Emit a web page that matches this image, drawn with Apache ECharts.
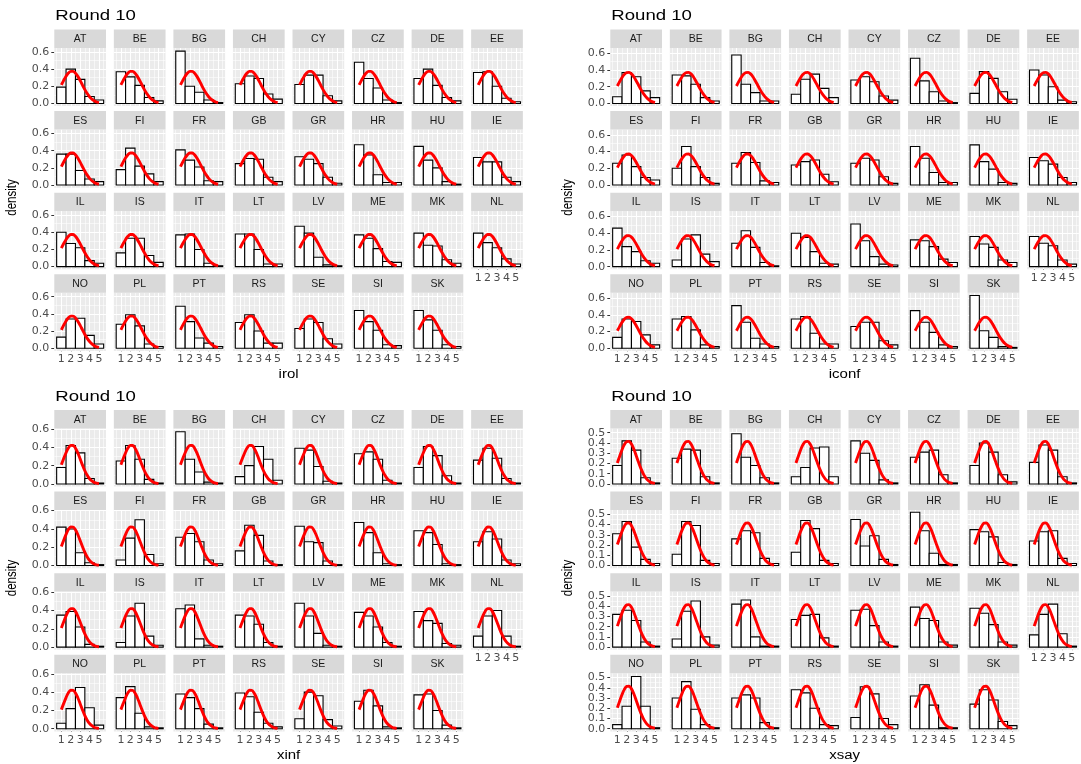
<!DOCTYPE html>
<html>
<head>
<meta charset="utf-8">
<script src="https://cdn.jsdelivr.net/npm/echarts@6/dist/echarts.min.js"></script>
<style>
  html, body { margin: 0; padding: 0; background: #ffffff; }
  #chart { width: 1081px; height: 764px; }
</style>
</head>
<body>
<div id="chart"></div>
<script>
// Facet order (country codes) and the five answer levels
const countries = ['AT','BE','BG','CH','CY','CZ','DE','EE','ES','FI','FR','GB','GR','HR','HU','IE',
                   'IL','IS','IT','LT','LV','ME','MK','NL','NO','PL','PT','RS','SE','SI','SK'];
const scores = [1, 2, 3, 4, 5];
const roundTitle = 'Round 10';
const yLabel = 'density';

// Share of answers per level (histogram density), one row per country
const irolShares = [
  [0.19,0.40,0.28,0.08,0.04],[0.37,0.31,0.21,0.07,0.03],[0.61,0.20,0.13,0.04,0.01],[0.23,0.32,0.29,0.11,0.05],
  [0.22,0.33,0.33,0.09,0.03],[0.48,0.29,0.18,0.04,0.01],[0.29,0.40,0.21,0.07,0.03],[0.36,0.37,0.20,0.06,0.02],
  [0.36,0.36,0.17,0.07,0.04],[0.18,0.43,0.22,0.13,0.04],[0.41,0.29,0.21,0.05,0.04],[0.25,0.31,0.30,0.09,0.04],
  [0.33,0.30,0.25,0.09,0.02],[0.47,0.35,0.12,0.03,0.03],[0.45,0.29,0.20,0.04,0.01],[0.32,0.27,0.27,0.09,0.04],
  [0.40,0.27,0.22,0.07,0.04],[0.16,0.33,0.33,0.13,0.05],[0.37,0.38,0.20,0.04,0.01],[0.38,0.38,0.20,0.03,0.03],
  [0.47,0.39,0.11,0.02,0.01],[0.37,0.33,0.21,0.06,0.05],[0.39,0.25,0.24,0.08,0.04],[0.39,0.28,0.22,0.09,0.03],
  [0.13,0.34,0.35,0.15,0.05],[0.28,0.39,0.26,0.05,0.02],[0.49,0.31,0.12,0.06,0.02],[0.30,0.39,0.20,0.06,0.06],
  [0.23,0.34,0.30,0.11,0.05],[0.44,0.31,0.21,0.04,0.03],[0.44,0.33,0.21,0.04,0.02]
];
const iconfShares = [
  [0.08,0.37,0.32,0.15,0.07],[0.34,0.33,0.23,0.07,0.03],[0.58,0.23,0.13,0.03,0.03],[0.11,0.29,0.35,0.18,0.07],
  [0.28,0.32,0.26,0.09,0.04],[0.54,0.27,0.14,0.03,0.01],[0.12,0.38,0.30,0.14,0.05],[0.40,0.34,0.20,0.04,0.02],
  [0.26,0.36,0.22,0.09,0.06],[0.20,0.46,0.22,0.09,0.02],[0.26,0.39,0.27,0.05,0.03],[0.24,0.28,0.30,0.13,0.04],
  [0.26,0.32,0.30,0.10,0.02],[0.46,0.32,0.15,0.03,0.03],[0.48,0.28,0.19,0.03,0.02],[0.33,0.29,0.25,0.09,0.03],
  [0.46,0.24,0.18,0.07,0.04],[0.08,0.33,0.38,0.15,0.06],[0.28,0.43,0.23,0.05,0.01],[0.40,0.35,0.18,0.04,0.03],
  [0.51,0.31,0.12,0.03,0.02],[0.32,0.31,0.24,0.09,0.05],[0.36,0.27,0.23,0.08,0.05],[0.36,0.28,0.25,0.08,0.03],
  [0.13,0.35,0.32,0.16,0.04],[0.35,0.38,0.22,0.04,0.02],[0.51,0.31,0.12,0.05,0.02],[0.35,0.38,0.18,0.05,0.05],
  [0.26,0.31,0.31,0.09,0.04],[0.45,0.31,0.19,0.04,0.02],[0.63,0.21,0.13,0.02,0.01]
];
const xinfShares = [
  [0.18,0.42,0.34,0.06,0.01],[0.25,0.42,0.27,0.05,0.01],[0.57,0.27,0.13,0.02,0.01],[0.08,0.20,0.41,0.27,0.04],
  [0.39,0.37,0.19,0.03,0.01],[0.33,0.35,0.27,0.04,0.01],[0.18,0.41,0.31,0.09,0.01],[0.26,0.39,0.28,0.06,0.01],
  [0.42,0.40,0.14,0.03,0.01],[0.06,0.30,0.50,0.12,0.02],[0.31,0.35,0.26,0.06,0.02],[0.16,0.44,0.33,0.05,0.01],
  [0.43,0.26,0.25,0.05,0.01],[0.47,0.36,0.14,0.02,0.01],[0.38,0.36,0.23,0.02,0.01],[0.26,0.37,0.29,0.06,0.02],
  [0.35,0.39,0.22,0.03,0.01],[0.05,0.34,0.48,0.12,0.02],[0.42,0.46,0.09,0.02,0.01],[0.35,0.34,0.25,0.05,0.01],
  [0.48,0.34,0.15,0.02,0.01],[0.38,0.34,0.22,0.05,0.01],[0.39,0.29,0.26,0.04,0.02],[0.12,0.34,0.40,0.12,0.01],
  [0.06,0.22,0.45,0.23,0.04],[0.34,0.46,0.17,0.02,0.01],[0.38,0.34,0.22,0.05,0.01],[0.39,0.35,0.18,0.06,0.02],
  [0.11,0.40,0.36,0.10,0.03],[0.30,0.42,0.25,0.02,0.01],[0.37,0.38,0.20,0.04,0.01]
];
const xsayShares = [
  [0.18,0.42,0.33,0.06,0.01],[0.25,0.34,0.33,0.07,0.01],[0.49,0.26,0.18,0.06,0.01],[0.07,0.16,0.35,0.36,0.07],
  [0.42,0.30,0.23,0.04,0.01],[0.26,0.31,0.33,0.09,0.01],[0.18,0.40,0.31,0.09,0.02],[0.21,0.38,0.33,0.07,0.01],
  [0.31,0.43,0.18,0.06,0.02],[0.11,0.43,0.39,0.05,0.02],[0.26,0.34,0.32,0.07,0.02],[0.13,0.44,0.36,0.05,0.02],
  [0.45,0.19,0.29,0.06,0.01],[0.52,0.34,0.12,0.01,0.01],[0.35,0.33,0.28,0.03,0.01],[0.24,0.33,0.34,0.07,0.02],
  [0.32,0.36,0.26,0.05,0.01],[0.08,0.35,0.45,0.10,0.02],[0.42,0.46,0.10,0.01,0.01],[0.27,0.31,0.32,0.09,0.01],
  [0.36,0.37,0.21,0.05,0.01],[0.39,0.28,0.26,0.05,0.02],[0.38,0.33,0.22,0.05,0.02],[0.12,0.32,0.42,0.13,0.01],
  [0.04,0.22,0.51,0.22,0.01],[0.30,0.46,0.19,0.04,0.01],[0.30,0.33,0.30,0.06,0.01],[0.38,0.35,0.20,0.04,0.03],
  [0.11,0.41,0.34,0.10,0.04],[0.32,0.43,0.23,0.01,0.01],[0.24,0.38,0.28,0.07,0.03]
];

// Pooled normal density curve, sampled every 0.25 from 1 to 5
const curveX = [1,1.25,1.5,1.75,2,2.25,2.5,2.75,3,3.25,3.5,3.75,4,4.25,4.5,4.75,5];
const irolCurve  = [0.215,0.269,0.317,0.354,0.374,0.374,0.353,0.315,0.267,0.213,0.161,0.115,0.078,0.050,0.030,0.017,0.009];
const iconfCurve = [0.209,0.262,0.310,0.348,0.369,0.371,0.353,0.319,0.272,0.220,0.168,0.122,0.084,0.054,0.033,0.019,0.011];
const xinfCurve  = [0.209,0.277,0.341,0.393,0.421,0.420,0.391,0.339,0.274,0.206,0.144,0.094,0.057,0.033,0.017,0.008,0.004];
const xsayCurve  = [0.205,0.271,0.334,0.384,0.413,0.415,0.389,0.341,0.278,0.213,0.152,0.101,0.063,0.036,0.020,0.010,0.005];

// Axis breaks
const xMajor = [1, 2, 3, 4, 5];
const xMinor = [0.5, 1.5, 2.5, 3.5, 4.5, 5.5];
const yMajorWide = [0, 0.2, 0.4, 0.6];
const yMinorWide = [0.1, 0.3, 0.5];
const yMajorNarrow = [0, 0.1, 0.2, 0.3, 0.4, 0.5];
const yMinorNarrow = [0.05, 0.15, 0.25, 0.35, 0.45];

// Facet geometry (pixels)
const COL_STEP = 59.55, FACET_W = 51.7, ROW_STEP = 81.6, STRIP_H = 18.4, PANEL_H = 58.2;
const SANS = 'Liberation Sans, Arial, Helvetica, sans-serif';
const TICK_FONT = 'DejaVu Sans, Verdana, sans-serif';
const TEXT_STRETCH = 1.2;   // wide lettering of the titles

const blocks = [
  { variable: 'irol',  shares: irolShares,  curve: irolCurve,  left: 54.3,  top: 29.5, yMin: -0.031,  yMax: 0.647, yMajor: yMajorWide,   yMinor: yMinorWide },
  { variable: 'iconf', shares: iconfShares, curve: iconfCurve, left: 610.3, top: 29.5, yMin: -0.0316, yMax: 0.664, yMajor: yMajorWide,   yMinor: yMinorWide },
  { variable: 'xinf',  shares: xinfShares,  curve: xinfCurve,  left: 54.3,  top: 410,  yMin: -0.029,  yMax: 0.607, yMajor: yMajorWide,   yMinor: yMinorWide },
  { variable: 'xsay',  shares: xsayShares,  curve: xsayCurve,  left: 610.3, top: 410,  yMin: -0.026,  yMax: 0.542, yMajor: yMajorNarrow, yMinor: yMinorNarrow }
];

const grid = [], xAxis = [], yAxis = [], series = [], graphic = [];

function gridLines(yMajor, yMinor) {
  const major = { color: '#ffffff', width: 1.1, type: 'solid' };
  const minor = { color: '#ffffff', width: 0.55, type: 'solid' };
  return [].concat(
    xMajor.map(v => ({ xAxis: v, lineStyle: major })),
    xMinor.map(v => ({ xAxis: v, lineStyle: minor })),
    yMajor.map(v => ({ yAxis: v, lineStyle: major })),
    yMinor.map(v => ({ yAxis: v, lineStyle: minor }))
  );
}

// Histogram bar: spans one unit centred on the answer level
function renderBar(params, api) {
  const x = api.value(0), y = api.value(1);
  const p0 = api.coord([x - 0.5, y]);
  const p1 = api.coord([x + 0.5, 0]);
  return {
    type: 'rect',
    shape: { x: p0[0], y: p0[1], width: p1[0] - p0[0], height: p1[1] - p0[1] },
    style: { fill: '#ffffff', stroke: '#000000', lineWidth: 1.1 }
  };
}

function textStyle(text, font, fill, align) {
  return { text: text, font: font, fill: fill, textAlign: align, textVerticalAlign: 'middle', align: align, verticalAlign: 'middle' };
}

// A left value axis; the labelled breaks are split over two stacked axes so
// that closely spaced labels are all kept
function densityAxis(gi, b, show, breaks) {
  return {
    gridIndex: gi, type: 'value', min: b.yMin, max: b.yMax, position: 'left', offset: 0,
    axisLine: { show: false }, splitLine: { show: false }, minorSplitLine: { show: false },
    axisTick: { show: show, customValues: breaks, length: 3, lineStyle: { color: '#333333', width: 1 } },
    axisLabel: { show: show, customValues: breaks, margin: 5, color: '#4D4D4D', fontSize: 11,
                 fontFamily: TICK_FONT, hideOverlap: false, showMinLabel: true, showMaxLabel: true,
                 formatter: v => Number(v).toFixed(1) }
  };
}

blocks.forEach(b => {
  // panel title
  graphic.push({
    type: 'text', x: b.left + 1, y: b.top - 13.5, scaleX: TEXT_STRETCH, silent: true,
    style: textStyle(roundTitle, '15.5px ' + SANS, '#000000', 'left')
  });
  // x axis title
  graphic.push({
    type: 'text', x: b.left + (7 * COL_STEP + FACET_W) / 2, y: b.top + 345.5, scaleX: TEXT_STRETCH, silent: true,
    style: textStyle(b.variable, '12.5px ' + SANS, '#000000', 'center')
  });
  // y axis title
  graphic.push({
    type: 'text', x: b.left - 42, y: b.top + 168, rotation: Math.PI / 2, scaleY: TEXT_STRETCH, silent: true,
    style: textStyle(yLabel, '11.5px ' + SANS, '#000000', 'center')
  });

  const evenBreaks = b.yMajor.filter((v, k) => k % 2 === 0);
  const oddBreaks = b.yMajor.filter((v, k) => k % 2 === 1);

  countries.forEach((country, i) => {
    const row = Math.floor(i / 8), col = i % 8;
    const left = b.left + col * COL_STEP;
    const stripTop = b.top + row * ROW_STEP;
    const top = stripTop + STRIP_H;
    const gi = grid.length;
    const showX = row === 3 || (row === 2 && col === 7);
    const showY = col === 0;

    grid.push({
      left: left, top: top, width: FACET_W, height: PANEL_H,
      show: true, backgroundColor: '#EBEBEB', borderWidth: 0, containLabel: false, outerBoundsMode: 'none'
    });
    xAxis.push({
      gridIndex: gi, type: 'value', min: 0.25, max: 5.75,
      axisLine: { show: false }, splitLine: { show: false }, minorSplitLine: { show: false },
      axisTick: { show: showX, customValues: xMajor, length: 3, lineStyle: { color: '#333333', width: 1 } },
      axisLabel: { show: showX, customValues: xMajor, margin: 3, color: '#4D4D4D', fontSize: 11, fontFamily: TICK_FONT,
                   hideOverlap: false, showMinLabel: true, showMaxLabel: true }
    });
    const yi = yAxis.length;
    yAxis.push(densityAxis(gi, b, showY, evenBreaks));
    if (showY) yAxis.push(densityAxis(gi, b, true, oddBreaks));

    series.push({
      type: 'custom', xAxisIndex: gi, yAxisIndex: yi, z: 3, silent: true,
      data: b.shares[i].map((v, k) => [scores[k], v]),
      encode: { x: 0, y: 1 },
      renderItem: renderBar
    });
    series.push({
      type: 'line', xAxisIndex: gi, yAxisIndex: yi, z: 4, silent: true,
      smooth: 0.35, showSymbol: false, symbol: 'none',
      data: curveX.map((x, k) => [x, b.curve[k]]),
      lineStyle: { color: '#FF0000', width: 2.9, cap: 'butt', join: 'round' },
      markLine: {
        silent: true, symbol: 'none', z: 1, animation: false,
        label: { show: false }, emphasis: { disabled: true },
        data: gridLines(b.yMajor, b.yMinor)
      }
    });

    // facet strip
    graphic.push({
      type: 'rect', silent: true, z: 10,
      shape: { x: left, y: stripTop, width: FACET_W, height: STRIP_H },
      style: { fill: '#D9D9D9' }
    });
    graphic.push({
      type: 'text', silent: true, z: 11, x: left + FACET_W / 2, y: stripTop + STRIP_H / 2 + 0.5,
      style: textStyle(country, '10.5px ' + SANS, '#1A1A1A', 'center')
    });
  });
});

const chart = echarts.init(document.getElementById('chart'), null, { renderer: 'canvas' });
chart.setOption({
  backgroundColor: '#ffffff',
  animation: false,
  grid: grid,
  xAxis: xAxis,
  yAxis: yAxis,
  series: series,
  graphic: graphic
});
</script>
</body>
</html>
